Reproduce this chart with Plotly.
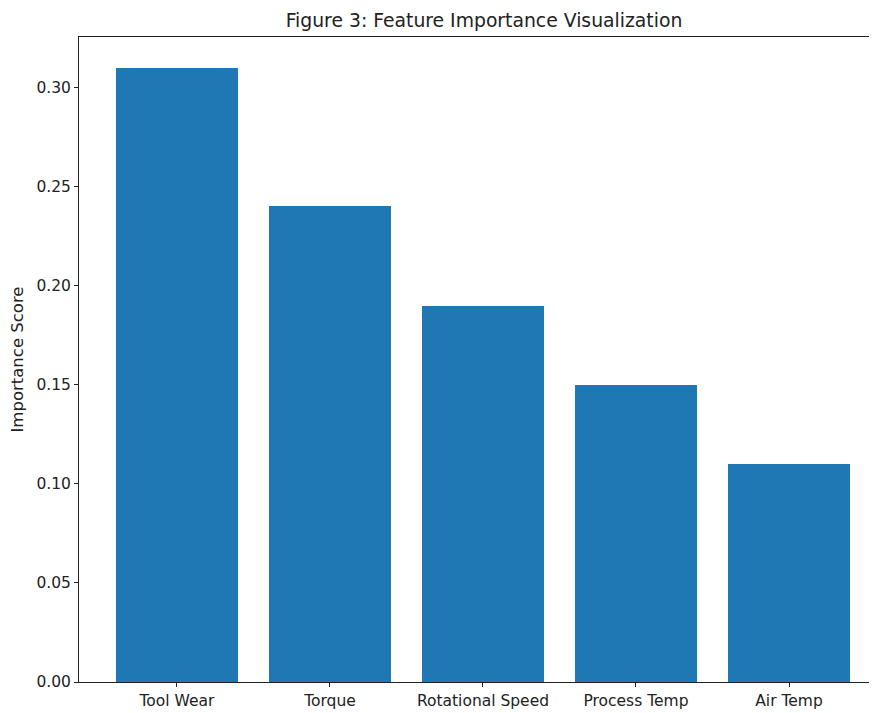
import plotly.graph_objects as go

features = ["Tool Wear", "Torque", "Rotational Speed", "Process Temp", "Air Temp"]
importance = [0.31, 0.24, 0.19, 0.15, 0.11]
y_ticks = [0.00, 0.05, 0.10, 0.15, 0.20, 0.25, 0.30]

FONT = "DejaVu Sans"

# The page body adds an 8px offset, so the figure is sized to fill the rest of the window.
W, H = 869, 705

fig = go.Figure(
    go.Bar(
        x=list(range(len(features))),
        y=importance,
        width=0.8,
        marker=dict(color="#1f77b4", line=dict(width=0)),
    )
)

fig.update_layout(
    width=W,
    height=H,
    margin=dict(l=71, r=0, t=29, b=31),
    plot_bgcolor="white",
    paper_bgcolor="white",
    showlegend=False,
    font=dict(family=FONT, size=15, color="#222222"),
    title=dict(
        text="Figure 3: Feature Importance Visualization",
        x=476 / W,
        xanchor="center",
        y=1 - 12 / H,
        yanchor="middle",
        font=dict(family=FONT, size=18.8, color="#222222"),
    ),
    bargap=0,
)

fig.update_xaxes(
    range=[-0.64, 4.575],
    tickmode="array",
    tickvals=list(range(len(features))),
    ticktext=features,
    showgrid=False,
    zeroline=False,
    showline=True,
    linecolor="#222222",
    linewidth=1,
    mirror=True,
    ticks="outside",
    ticklen=4,
    tickcolor="#222222",
    tickfont=dict(family=FONT, size=15.5, color="#222222"),
)

fig.update_yaxes(
    range=[0, 0.3255],
    tickmode="array",
    tickvals=y_ticks,
    ticktext=[f"{v:.2f}" for v in y_ticks],
    showgrid=False,
    zeroline=False,
    showline=True,
    linecolor="#222222",
    linewidth=1,
    ticks="outside",
    ticklen=4,
    tickcolor="#222222",
    tickfont=dict(family=FONT, size=15.5, color="#222222"),
    title=dict(text="Importance Score", font=dict(family=FONT, size=16.5, color="#222222"), standoff=10),
)

fig.write_html("out.html")
